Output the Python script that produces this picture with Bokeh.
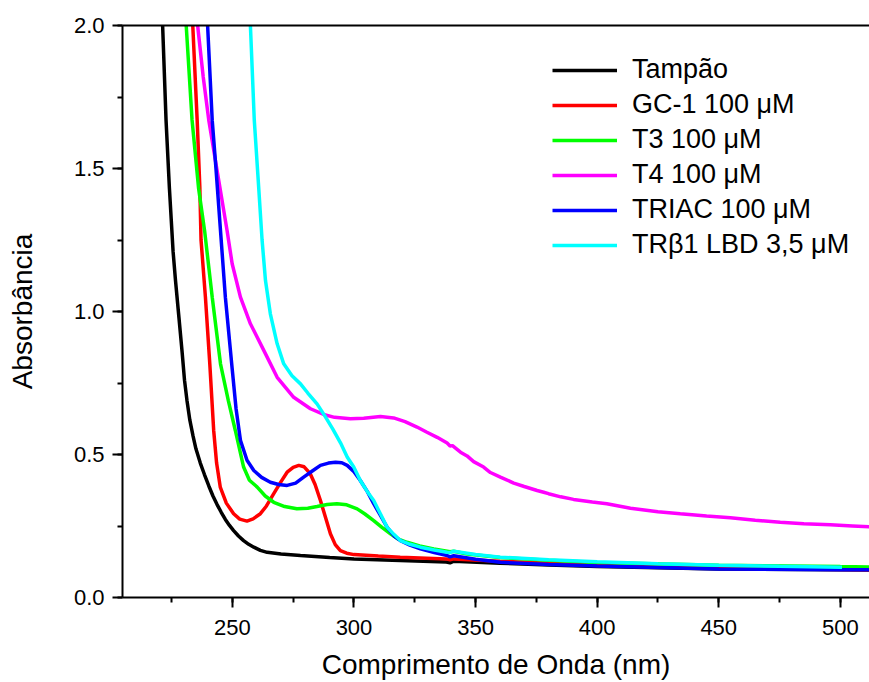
from bokeh.plotting import figure
from bokeh.models import (Range1d, LinearAxis, SingleIntervalTicker, FixedTicker,
                          PrintfTickFormatter, Legend, LegendItem)
from bokeh.embed import file_html
from bokeh.resources import INLINE

# --- data ---
wl_tampao = [221.3, 222.7, 224.1, 225.6, 226.6, 228.0, 229.3, 230.3, 231.3, 232.5, 233.8, 235.0,
             236.8, 238.5, 240.3, 242.0, 243.7, 245.4, 247.1, 248.8, 250.5, 252.5, 254.6, 256.7,
             258.8, 261.5, 264.3, 270.0, 278.0, 290.0, 300.0, 319.0, 338.0, 339.5, 341.0, 360.0,
             380.0, 400.0, 450.0, 500.0, 512.0]
a_tampao = [2.0, 1.67, 1.43, 1.21, 1.108, 0.98, 0.86, 0.76, 0.69, 0.62, 0.565, 0.52,
            0.47, 0.43, 0.39, 0.355, 0.325, 0.298, 0.273, 0.252, 0.234, 0.215, 0.199, 0.186,
            0.176, 0.165, 0.158, 0.152, 0.147, 0.140, 0.135, 0.129, 0.124, 0.121, 0.127, 0.120,
            0.114, 0.108, 0.100, 0.097, 0.096]

wl_gc1 = [233.7, 235.5, 236.6, 237.1, 238.9, 240.7, 242.3, 243.5, 245.0, 247.5, 250.5, 253.0,
          256.0, 258.5, 261.5, 264.0, 267.0, 270.0, 272.5, 275.0, 277.3, 279.5, 282.0, 284.0,
          286.2, 288.3, 290.3, 292.3, 294.4, 297.0, 300.0, 310.0, 319.0, 338.0, 339.5, 341.0,
          360.0, 400.0, 450.0, 500.0, 512.0]
a_gc1 = [2.0, 1.67, 1.435, 1.25, 1.05, 0.817, 0.584, 0.47, 0.386, 0.33, 0.293, 0.274,
         0.267, 0.275, 0.293, 0.32, 0.363, 0.405, 0.438, 0.455, 0.462, 0.457, 0.433, 0.395,
         0.339, 0.28, 0.223, 0.185, 0.164, 0.155, 0.150, 0.145, 0.141, 0.135, 0.132, 0.135,
         0.127, 0.112, 0.102, 0.098, 0.097]

wl_t3 = [231.0, 233.4, 236.1, 238.6, 241.7, 245.1, 248.3, 251.2, 254.6, 257.0, 260.2, 263.5,
         267.0, 271.5, 276.5, 281.0, 284.8, 289.0, 293.0, 297.0, 301.3, 304.5, 308.1, 311.5,
         315.0, 318.0, 321.8, 327.0, 332.8, 339.5, 341.0, 346.5, 360.0, 380.0, 400.0, 450.0,
         500.0, 512.0]
a_t3 = [2.0, 1.67, 1.43, 1.28, 1.05, 0.817, 0.689, 0.584, 0.456, 0.41, 0.386, 0.355,
        0.333, 0.318, 0.310, 0.312, 0.318, 0.325, 0.328, 0.324, 0.310, 0.292, 0.269, 0.245,
        0.223, 0.205, 0.193, 0.180, 0.170, 0.160, 0.162, 0.152, 0.140, 0.130, 0.122, 0.113,
        0.108, 0.107]

wl_t4 = [235.7, 238.0, 240.3, 243.7, 247.8, 249.9, 253.3, 257.4, 262.9, 268.4, 275.2, 282.1,
         287.5, 292.0, 298.5, 304.0, 310.9, 316.3, 321.0, 325.9, 330.0, 334.2, 338.3, 339.5,
         340.5, 343.8, 346.5, 349.2, 353.3, 356.1, 360.2, 365.7, 370.0, 375.3, 378.0, 380.0,
         385.0, 390.3, 398.0, 404.0, 413.7, 425.0, 434.2, 445.0, 454.8, 465.0, 475.3, 485.0,
         495.9, 505.0, 512.0]
a_t4 = [2.0, 1.82, 1.668, 1.493, 1.283, 1.167, 1.05, 0.957, 0.864, 0.770, 0.700, 0.660,
        0.640, 0.630, 0.625, 0.627, 0.633, 0.628, 0.615, 0.596, 0.578, 0.560, 0.540, 0.530,
        0.531, 0.508, 0.495, 0.475, 0.456, 0.437, 0.421, 0.400, 0.388, 0.374, 0.368, 0.363,
        0.352, 0.343, 0.334, 0.328, 0.312, 0.300, 0.293, 0.285, 0.279, 0.270, 0.263, 0.258,
        0.254, 0.250, 0.247]

wl_triac = [239.8, 241.7, 243.3, 245.1, 247.1, 249.9, 251.5, 253.3, 256.0, 258.8, 262.0, 265.6,
            269.0, 272.5, 276.0, 279.3, 283.0, 286.2, 289.5, 292.4, 295.0, 297.2, 300.0, 302.6,
            305.5, 308.1, 311.0, 313.6, 316.5, 319.1, 323.0, 327.3, 333.0, 338.3, 339.5, 341.0,
            350.0, 360.2, 380.0, 400.0, 450.0, 500.0, 512.0]
a_triac = [2.0, 1.668, 1.493, 1.283, 1.05, 0.80, 0.66, 0.55, 0.48, 0.444, 0.42, 0.403,
           0.395, 0.392, 0.40, 0.421, 0.443, 0.462, 0.470, 0.473, 0.471, 0.462, 0.440, 0.409,
           0.37, 0.328, 0.285, 0.246, 0.215, 0.199, 0.183, 0.170, 0.157, 0.147, 0.142, 0.146,
           0.134, 0.123, 0.115, 0.110, 0.100, 0.097, 0.097]

wl_trb1 = [257.4, 259.0, 260.8, 262.2, 263.6, 265.6, 268.4, 271.1, 274.5, 278.0, 281.0, 284.8,
           288.0, 291.3, 294.5, 297.2, 299.9, 302.6, 305.5, 308.1, 311.0, 313.6, 316.5, 319.1,
           323.0, 327.3, 333.0, 338.3, 339.5, 341.0, 350.0, 360.2, 380.0, 400.0, 425.0, 450.0,
           475.0, 500.7]
a_trb1 = [2.0, 1.668, 1.435, 1.25, 1.108, 0.992, 0.887, 0.817, 0.775, 0.747, 0.715, 0.677,
          0.635, 0.589, 0.54, 0.491, 0.456, 0.409, 0.37, 0.339, 0.29, 0.246, 0.22, 0.199,
          0.186, 0.176, 0.166, 0.158, 0.157, 0.162, 0.150, 0.141, 0.132, 0.125, 0.118, 0.113,
          0.109, 0.106]

labels = ["Tampão", "GC-1 100 μM", "T3 100 μM", "T4 100 μM", "TRIAC 100 μM", "TRβ1 LBD 3,5 μM"]
colors = ["#000000", "#ff0000", "#00ff00", "#ff00ff", "#0000ff", "#00ffff"]
xs_all = [wl_tampao, wl_gc1, wl_t3, wl_t4, wl_triac, wl_trb1]
ys_all = [a_tampao, a_gc1, a_t3, a_t4, a_triac, a_trb1]

x_title = "Comprimento de Onda (nm)"
y_title = "Absorbância"

FONT = "Liberation Sans"

p = figure(width=869, height=682, output_backend="svg", toolbar_location=None,
           x_range=Range1d(204.8, 512.0), y_range=Range1d(0.0, 2.0),
           min_border_left=122, min_border_right=0, min_border_top=25, min_border_bottom=85,
           x_axis_label=x_title, y_axis_label=y_title)
p.outline_line_color = None
p.xgrid.visible = False
p.ygrid.visible = False
p.background_fill_color = "white"
p.border_fill_color = "white"

p.xaxis.ticker = SingleIntervalTicker(interval=50, num_minor_ticks=2)
p.yaxis.ticker = SingleIntervalTicker(interval=0.5, num_minor_ticks=2)
p.yaxis.formatter = PrintfTickFormatter(format="%.1f")

for ax in (p.xaxis[0], p.yaxis[0]):
    ax.axis_line_width = 2
    ax.axis_line_color = "black"
    ax.major_tick_line_width = 2
    ax.minor_tick_line_width = 2
    ax.major_tick_in = 0
    ax.major_tick_out = 10
    ax.minor_tick_in = 0
    ax.minor_tick_out = 5
    ax.major_label_text_font = FONT
    ax.major_label_text_font_size = "22px"
    ax.major_label_text_color = "black"
    ax.axis_label_text_font = FONT
    ax.axis_label_text_font_size = "28px"
    ax.axis_label_text_font_style = "normal"
    ax.axis_label_text_color = "black"

p.xaxis.major_label_standoff = 12
p.xaxis.axis_label_standoff = 11
p.yaxis.major_label_standoff = 8
p.yaxis.axis_label_standoff = 33

top = LinearAxis(ticker=FixedTicker(ticks=[]), axis_line_width=2, axis_line_color="black",
                 major_tick_line_color=None, minor_tick_line_color=None)
p.add_layout(top, "above")

items = []
for name, xs, ys, col in zip(labels, xs_all, ys_all, colors):
    r = p.line(xs, ys, line_color=col, line_width=3.5)
    items.append(LegendItem(label=name, renderers=[r]))

legend = Legend(items=items, location=(430, 337), border_line_color=None,
                background_fill_alpha=0, padding=0, margin=0, spacing=4,
                glyph_width=65, glyph_height=30, label_height=30, label_standoff=15,
                label_text_font=FONT, label_text_font_size="27px", label_text_color="black")
p.add_layout(legend, "center")

open("out.html", "w").write(file_html(p, INLINE))
